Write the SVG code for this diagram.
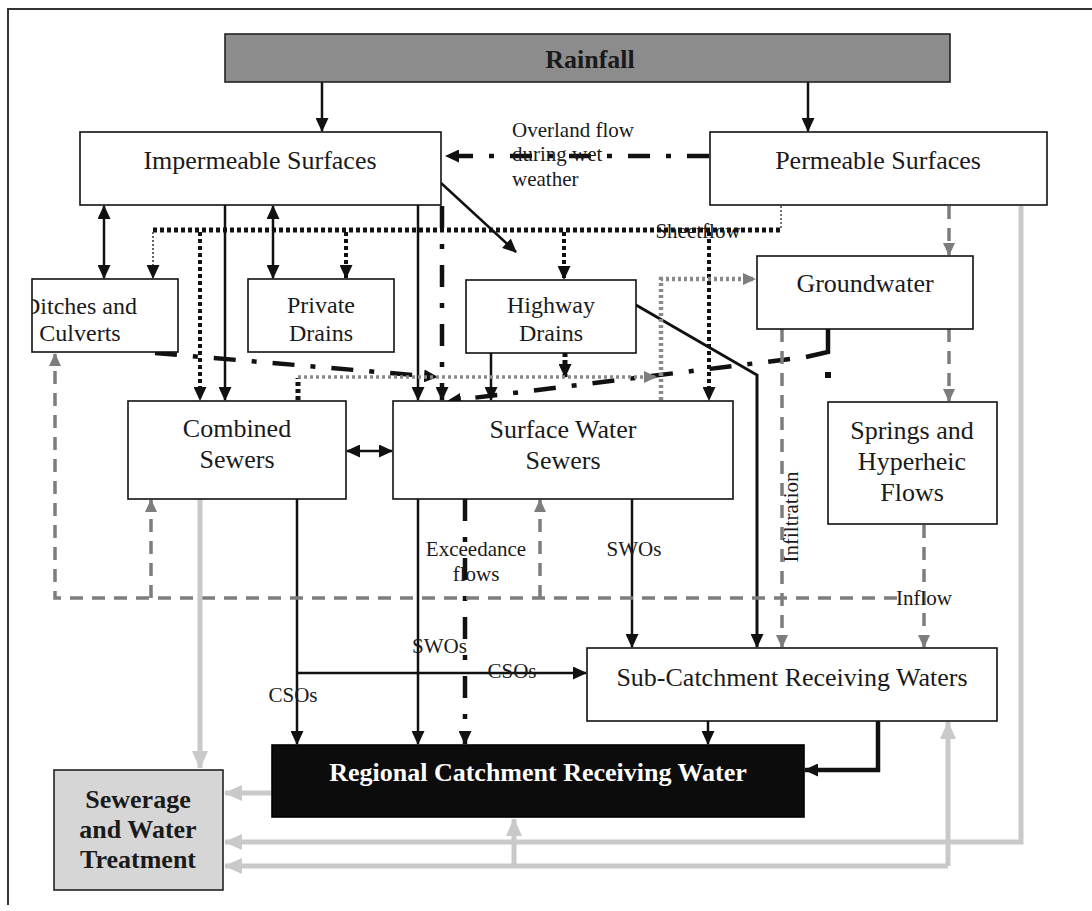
<svg xmlns="http://www.w3.org/2000/svg" width="1092" height="911" viewBox="0 0 1092 911">
<defs>
<style>
.box{fill:#fff;stroke:#111;stroke-width:1.6}
.t26{font-family:"Liberation Serif","Times New Roman",serif;font-size:26px;fill:#1a1a1a;text-anchor:middle}
.t24{font-family:"Liberation Serif","Times New Roman",serif;font-size:24px;fill:#1a1a1a;text-anchor:middle}
.tb{font-family:"Liberation Serif","Times New Roman",serif;font-size:26px;font-weight:bold;text-anchor:middle}
.lbl{font-family:"Liberation Serif","Times New Roman",serif;font-size:21px;fill:#1a1a1a}
.solid{fill:none;stroke:#111;stroke-width:2.5}
.dd{fill:none;stroke:#111;stroke-width:4.5;stroke-dasharray:22 16 5 16}
.dot{fill:none;stroke:#111;stroke-width:4;stroke-dasharray:4 3}
.gdash{fill:none;stroke:#7d7d7d;stroke-width:3.5;stroke-dasharray:13 9}
.gdot{fill:none;stroke:#8a8a8a;stroke-width:3.5;stroke-dasharray:3 3}
.lg{fill:none;stroke:#c9c9c9;stroke-width:5}
</style>
<marker id="a" viewBox="0 0 14 13" refX="13" refY="6.5" markerWidth="14" markerHeight="13" markerUnits="userSpaceOnUse" orient="auto-start-reverse"><path d="M0,0L14,6.5L0,13Z" fill="#111"/></marker>
<marker id="g" viewBox="0 0 13 12" refX="12" refY="6" markerWidth="13" markerHeight="12" markerUnits="userSpaceOnUse" orient="auto-start-reverse"><path d="M0,0L13,6L0,12Z" fill="#7d7d7d"/></marker>
<marker id="l" viewBox="0 0 18 16" refX="17" refY="8" markerWidth="18" markerHeight="16" markerUnits="userSpaceOnUse" orient="auto-start-reverse"><path d="M0,0L18,8L0,16Z" fill="#c9c9c9"/></marker>
<clipPath id="dc"><rect x="32" y="279" width="146" height="73"/></clipPath>
</defs>
<rect width="1092" height="911" fill="#fff"/>
<path d="M8,905V9H1092" fill="none" stroke="#333" stroke-width="2"/>

<g id="connectors">
<!-- solid black -->
<path class="solid" d="M322,82V131" marker-end="url(#a)"/>
<path class="solid" d="M808,82V131" marker-end="url(#a)"/>
<path class="solid" d="M441,183L516,252" marker-end="url(#a)"/>
<path class="solid" d="M104,206V278" marker-start="url(#a)" marker-end="url(#a)"/>
<path class="solid" d="M273,206V278" marker-start="url(#a)" marker-end="url(#a)"/>
<path class="solid" d="M225,205V400" marker-end="url(#a)"/>
<path class="solid" d="M418,205V400" marker-end="url(#a)"/>
<path class="solid" d="M491,353V400" marker-end="url(#a)"/>
<path class="solid" style="stroke-width:3" d="M636,305L757,375V647" marker-end="url(#a)"/>
<path class="solid" d="M347,451H392" marker-start="url(#a)" marker-end="url(#a)"/>
<path class="solid" d="M297,499V744" marker-end="url(#a)"/>
<path class="solid" d="M297,673H586" marker-end="url(#a)"/>
<path class="solid" d="M418,499V744" marker-end="url(#a)"/>
<path class="solid" d="M632,499V647" marker-end="url(#a)"/>
<path class="solid" d="M708,721V744" marker-end="url(#a)"/>
<path class="solid" style="stroke-width:4.5" d="M878,721V770H805" marker-end="url(#a)"/>
<!-- dash-dot -->
<path class="dd" d="M709,156H446" marker-end="url(#a)"/>
<path class="dd" d="M442,206V400" marker-end="url(#a)"/>
<path class="dd" d="M155,353L437,377" marker-end="url(#a)"/>
<path class="solid" style="stroke-width:4.5" d="M828,329V352L806,357"/>
<path class="dd" d="M790,359L448,401" marker-end="url(#a)"/>
<rect x="825" y="372" width="6" height="6" fill="#111"/>
<path class="dd" d="M465,499V744" marker-end="url(#a)"/>
<!-- dotted black (sheetflow) -->
<path fill="none" stroke="#444" stroke-width="1.5" stroke-dasharray="2 2" d="M781,206V230"/>
<path class="dot" style="stroke-width:5" d="M153,230H780"/>
<path fill="none" stroke="#666" stroke-width="2" stroke-dasharray="2 2" d="M153,232V278" marker-end="url(#a)"/>
<path class="dot" d="M200,232V400" marker-end="url(#a)"/>
<path class="dot" d="M346,232V278" marker-end="url(#a)"/>
<path class="dot" d="M564,232V279" marker-end="url(#a)"/>
<path class="dot" d="M709,232V400" marker-end="url(#a)"/>
<path class="dot" style="stroke-width:5" d="M565,353V377" marker-end="url(#a)"/>
<path class="dot" style="stroke-width:5" d="M298,400V378"/>
<!-- gray dotted -->
<path class="gdot" d="M298,377H656" marker-end="url(#g)"/>
<path class="gdot" style="stroke-width:4.5" d="M661,400V279H755" marker-end="url(#g)"/>
<!-- gray dashed -->
<path class="gdash" d="M949,206V255" marker-end="url(#g)"/>
<path class="gdash" d="M949,329V401" marker-end="url(#g)"/>
<path class="gdash" d="M782,329V647" marker-end="url(#g)"/>
<path class="gdash" d="M924,525V647" marker-end="url(#g)"/>
<path class="gdash" d="M897,598H55V354" marker-end="url(#g)"/>
<path class="gdash" d="M151,598V500" marker-end="url(#g)"/>
<path class="gdash" d="M540,598V500" marker-end="url(#g)"/>
<!-- light gray -->
<path class="lg" d="M200,499V768" marker-end="url(#l)"/>
<path class="lg" d="M271,793H225" marker-end="url(#l)"/>
<path class="lg" d="M1021,206V842H225" marker-end="url(#l)"/>
<path class="lg" d="M948,866H225" marker-end="url(#l)"/>
<path class="lg" d="M948,866V722" marker-end="url(#l)"/>
<path class="lg" d="M514,866V819" marker-end="url(#l)"/>
</g>

<g id="labels">
<text class="lbl" x="512" y="137">Overland flow</text>
<text class="lbl" x="512" y="161">during wet</text>
<text class="lbl" x="512" y="186">weather</text>
<text class="lbl" x="698" y="238" text-anchor="middle">Sheetflow</text>
<text class="lbl" transform="translate(798,517) rotate(-90)" text-anchor="middle">Infiltration</text>
<text class="lbl" x="924" y="605" text-anchor="middle">Inflow</text>
<text class="lbl" x="476" y="556" text-anchor="middle">Exceedance</text>
<text class="lbl" x="476" y="581" text-anchor="middle">flows</text>
<text class="lbl" x="634" y="556" text-anchor="middle">SWOs</text>
<text class="lbl" x="412" y="653">SWOs</text>
<text class="lbl" x="512" y="678" text-anchor="middle">CSOs</text>
<text class="lbl" x="293" y="702" text-anchor="middle">CSOs</text>
</g>

<g id="rainfall"><rect x="225" y="34" width="725" height="48" fill="#8c8c8c" stroke="#222" stroke-width="1.6"/><text class="tb" x="590" y="68" fill="#1a1a1a">Rainfall</text></g>
<g id="impermeable"><rect class="box" x="80" y="132" width="361" height="73"/><text class="t26" x="260" y="169">Impermeable Surfaces</text></g>
<g id="permeable"><rect class="box" x="710" y="132" width="337" height="73"/><text class="t26" x="878" y="169">Permeable Surfaces</text></g>
<g id="ditches"><rect class="box" x="32" y="279" width="146" height="73"/><g clip-path="url(#dc)"><text class="t24" x="80" y="314">Ditches and</text><text class="t24" x="80" y="341">Culverts</text></g></g>
<g id="private"><rect class="box" x="248" y="279" width="146" height="73"/><text class="t24" x="321" y="313">Private</text><text class="t24" x="321" y="341">Drains</text></g>
<g id="highway"><rect class="box" x="466" y="280" width="170" height="73"/><text class="t24" x="551" y="313">Highway</text><text class="t24" x="551" y="341">Drains</text></g>
<g id="groundwater"><rect class="box" x="757" y="256" width="216" height="73"/><text class="t26" x="865" y="292">Groundwater</text></g>
<g id="combined"><rect class="box" x="128" y="401" width="218" height="98"/><text class="t26" x="237" y="437">Combined</text><text class="t26" x="237" y="468">Sewers</text></g>
<g id="surface"><rect class="box" x="393" y="401" width="340" height="98"/><text class="t26" x="563" y="438">Surface Water</text><text class="t26" x="563" y="469">Sewers</text></g>
<g id="springs"><rect class="box" x="828" y="402" width="169" height="122"/><text class="t26" x="912" y="439">Springs and</text><text class="t26" x="912" y="470">Hyperheic</text><text class="t26" x="912" y="501">Flows</text></g>
<g id="subcatchment"><rect class="box" x="587" y="648" width="410" height="73"/><text class="t26" x="792" y="686">Sub-Catchment Receiving Waters</text></g>
<g id="regional"><rect x="272" y="745" width="532" height="72" fill="#0c0c0c" stroke="#000" stroke-width="1.6"/><text class="tb" x="538" y="781" fill="#fff">Regional Catchment Receiving Water</text></g>
<g id="sewerage"><rect x="54" y="770" width="169" height="120" fill="#d6d6d6" stroke="#222" stroke-width="1.6"/><text class="tb" x="138" y="808" fill="#1a1a1a">Sewerage</text><text class="tb" x="138" y="838" fill="#1a1a1a">and Water</text><text class="tb" x="138" y="868" fill="#1a1a1a">Treatment</text></g>
</svg>
